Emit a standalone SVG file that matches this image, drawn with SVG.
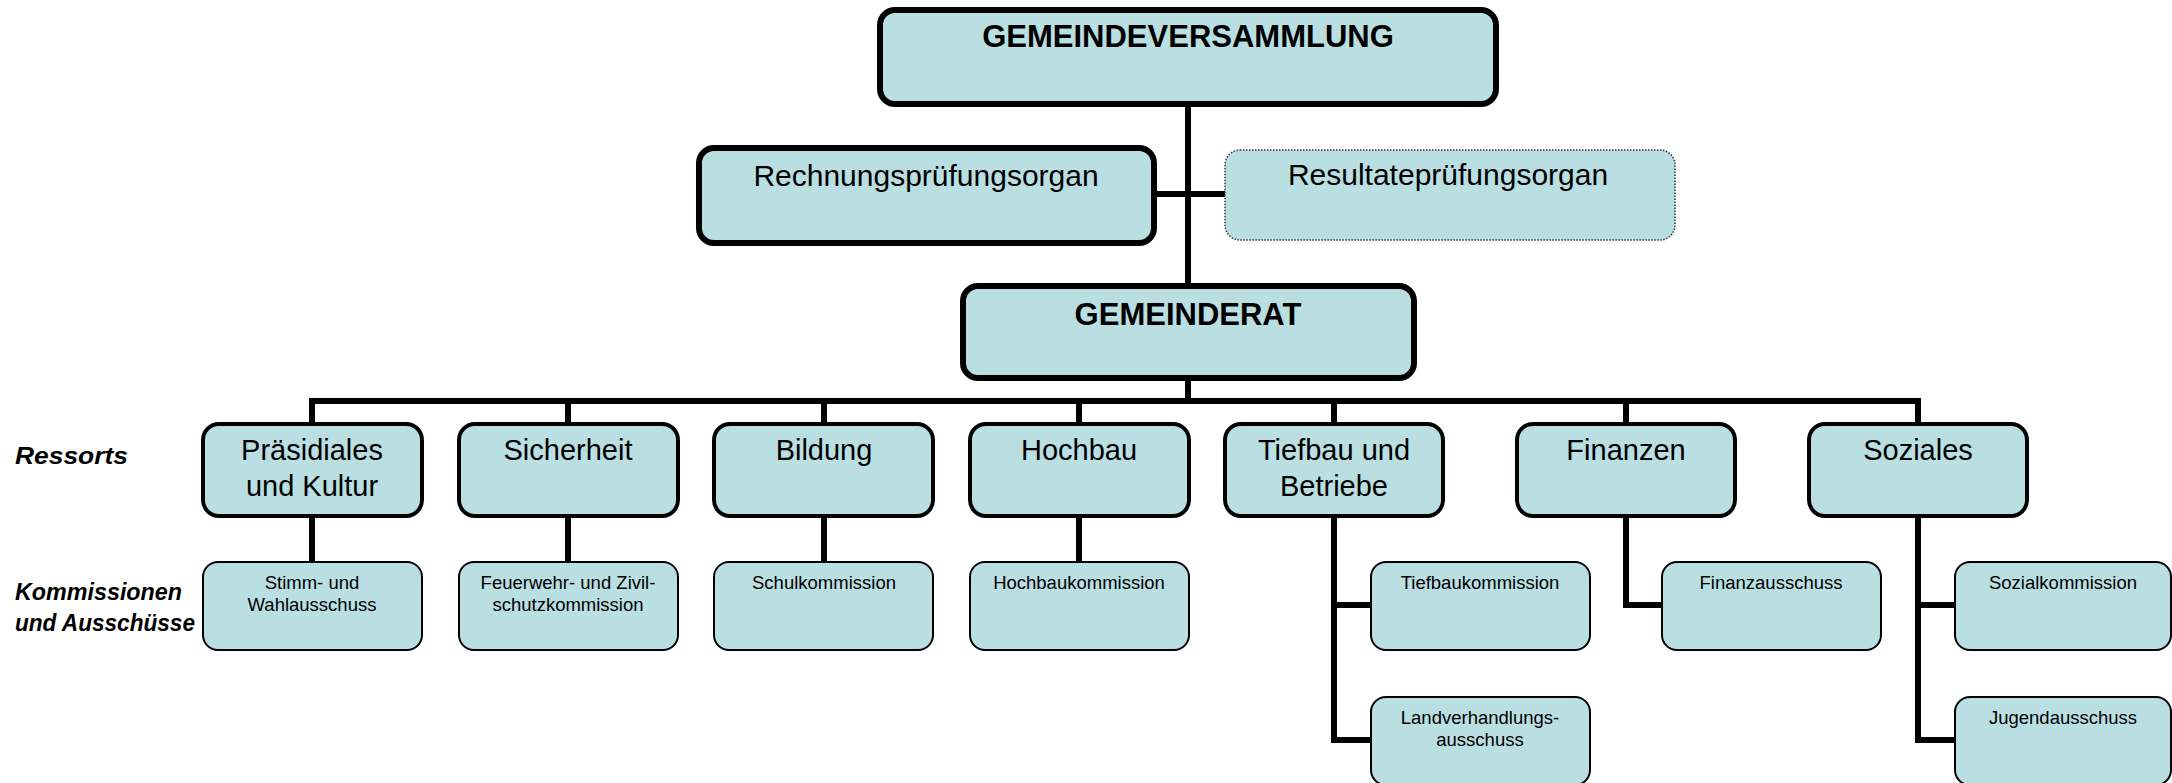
<svg xmlns="http://www.w3.org/2000/svg" width="2172" height="783" viewBox="0 0 2172 783">
<style>
  .top { fill:#BADFE3; stroke:#000; stroke-width:6; }
  .res { fill:#BADFE3; stroke:#000; stroke-width:4; }
  .kom { fill:#BADFE3; stroke:#000; stroke-width:2; }
  .dot { fill:#BADFE3; stroke:#333; stroke-width:1.5; stroke-dasharray:1.5 1.5; }
  .con { fill:none; stroke:#000; stroke-width:6; stroke-linejoin:miter; stroke-linecap:butt; }
  text { font-family:"Liberation Sans", Arial, sans-serif; fill:#000; text-anchor:middle; }
  .tb { font-size:31px; font-weight:bold; }
  .tm { font-size:30px; }
  .tr { font-size:29px; }
  .tk { font-size:18.5px; }
  .lbl { font-size:24px; font-weight:bold; font-style:italic; text-anchor:start; }
</style>

<g id="connectors">
  <path class="con" d="M1188,104 V285"/>
  <path class="con" d="M1154,194 H1225"/>
  <path class="con" d="M1188,378 V401"/>
  <path class="con" d="M312,423 V401 H1918 V423"/>
  <path class="con" d="M568,401 V423"/>
  <path class="con" d="M824,401 V423"/>
  <path class="con" d="M1079,401 V423"/>
  <path class="con" d="M1334,401 V423"/>
  <path class="con" d="M1626,401 V423"/>
  <path class="con" d="M312,516 V562"/>
  <path class="con" d="M568,516 V562"/>
  <path class="con" d="M824,516 V562"/>
  <path class="con" d="M1079,516 V562"/>
  <path class="con" d="M1334,516 V740 H1371"/>
  <path class="con" d="M1334,605 H1371"/>
  <path class="con" d="M1626,516 V605 H1662"/>
  <path class="con" d="M1918,516 V740 H1955"/>
  <path class="con" d="M1918,605 H1955"/>
</g>

<g id="gemeindeversammlung">
  <rect class="top" x="880" y="10" width="616" height="94" rx="15"/>
  <text class="tb" x="1188" y="47">GEMEINDEVERSAMMLUNG</text>
</g>
<g id="rechnungspruefungsorgan">
  <rect class="top" x="699" y="148" width="455" height="95" rx="15"/>
  <text class="tm" x="926" y="186">Rechnungsprüfungsorgan</text>
</g>
<g id="resultatepruefungsorgan">
  <rect class="dot" x="1225" y="150" width="450" height="90" rx="15"/>
  <text class="tm" x="1448" y="185">Resultateprüfungsorgan</text>
</g>
<g id="gemeinderat">
  <rect class="top" x="963" y="286" width="451" height="92" rx="15"/>
  <text class="tb" x="1188" y="325">GEMEINDERAT</text>
</g>

<g id="label-ressorts">
  <text class="lbl" x="15" y="464" textLength="113" lengthAdjust="spacingAndGlyphs">Ressorts</text>
</g>
<g id="label-kommissionen">
  <text class="lbl" x="15" y="600" textLength="167" lengthAdjust="spacingAndGlyphs">Kommissionen</text>
  <text class="lbl" x="15" y="631" textLength="180" lengthAdjust="spacingAndGlyphs">und Ausschüsse</text>
</g>

<g id="praesidiales">
  <rect class="res" x="203" y="424" width="219" height="92" rx="16"/>
  <text class="tr" x="312" y="460">Präsidiales</text>
  <text class="tr" x="312" y="496">und Kultur</text>
</g>
<g id="sicherheit">
  <rect class="res" x="459" y="424" width="219" height="92" rx="16"/>
  <text class="tr" x="568" y="460">Sicherheit</text>
</g>
<g id="bildung">
  <rect class="res" x="714" y="424" width="219" height="92" rx="16"/>
  <text class="tr" x="824" y="460">Bildung</text>
</g>
<g id="hochbau">
  <rect class="res" x="970" y="424" width="219" height="92" rx="16"/>
  <text class="tr" x="1079" y="460">Hochbau</text>
</g>
<g id="tiefbau">
  <rect class="res" x="1225" y="424" width="218" height="92" rx="16"/>
  <text class="tr" x="1334" y="460">Tiefbau und</text>
  <text class="tr" x="1334" y="496">Betriebe</text>
</g>
<g id="finanzen">
  <rect class="res" x="1517" y="424" width="218" height="92" rx="16"/>
  <text class="tr" x="1626" y="460">Finanzen</text>
</g>
<g id="soziales">
  <rect class="res" x="1809" y="424" width="218" height="92" rx="16"/>
  <text class="tr" x="1918" y="460">Soziales</text>
</g>

<g id="stimm-wahlausschuss">
  <rect class="kom" x="203" y="562" width="219" height="88" rx="15"/>
  <text class="tk" x="312" y="589">Stimm- und</text>
  <text class="tk" x="312" y="611">Wahlausschuss</text>
</g>
<g id="feuerwehr">
  <rect class="kom" x="459" y="562" width="219" height="88" rx="15"/>
  <text class="tk" x="568" y="589">Feuerwehr- und Zivil-</text>
  <text class="tk" x="568" y="611">schutzkommission</text>
</g>
<g id="schulkommission">
  <rect class="kom" x="714" y="562" width="219" height="88" rx="15"/>
  <text class="tk" x="824" y="589">Schulkommission</text>
</g>
<g id="hochbaukommission">
  <rect class="kom" x="970" y="562" width="219" height="88" rx="15"/>
  <text class="tk" x="1079" y="589">Hochbaukommission</text>
</g>
<g id="tiefbaukommission">
  <rect class="kom" x="1371" y="562" width="219" height="88" rx="15"/>
  <text class="tk" x="1480" y="589">Tiefbaukommission</text>
</g>
<g id="landverhandlungsausschuss">
  <rect class="kom" x="1371" y="697" width="219" height="88" rx="15"/>
  <text class="tk" x="1480" y="724">Landverhandlungs-</text>
  <text class="tk" x="1480" y="746">ausschuss</text>
</g>
<g id="finanzausschuss">
  <rect class="kom" x="1662" y="562" width="219" height="88" rx="15"/>
  <text class="tk" x="1771" y="589">Finanzausschuss</text>
</g>
<g id="sozialkommission">
  <rect class="kom" x="1955" y="562" width="216" height="88" rx="15"/>
  <text class="tk" x="2063" y="589">Sozialkommission</text>
</g>
<g id="jugendausschuss">
  <rect class="kom" x="1955" y="697" width="216" height="88" rx="15"/>
  <text class="tk" x="2063" y="724">Jugendausschuss</text>
</g>
</svg>
